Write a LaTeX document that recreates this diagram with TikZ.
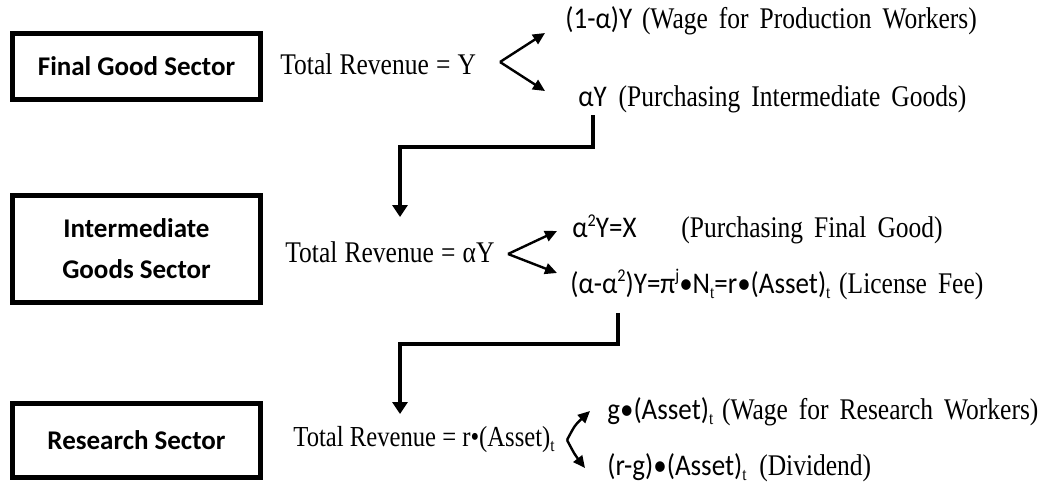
\documentclass[tikz,border=0pt]{standalone}
\usepackage{fontspec}
\setmainfont{Liberation Serif}
\newfontfamily\calib{Carlito}
\newfontfamily\tallserif[FakeStretch=0.85]{Liberation Serif}
\newfontfamily\tallcalib[FakeStretch=0.9]{Carlito}
\usetikzlibrary{calc,arrows.meta,positioning}
\newcommand{\lowidx}[1]{\raisebox{-0.35ex}{\tallserif\fontsize{9}{9}\selectfont #1}}
\newcommand{\hiidx}[1]{\raisebox{0.8ex}{\fontsize{9}{9}\selectfont #1}}
\newcommand{\widegap}[1]{\spaceskip=#1\relax}
\tikzset{
  sectorbox/.style={draw,line width=2.4pt,minimum width=124pt,inner sep=0pt,align=center,font=\calib\bfseries\fontsize{13.5}{20.5}\selectfont},
  revenue/.style={anchor=west,inner sep=1pt,font=\tallserif\fontsize{15}{17}\selectfont\widegap{3.6pt}},
  formula/.style={anchor=west,inner sep=1pt,font=\tallcalib\fontsize{15}{16}\selectfont},
  gloss/.style={anchor=base west,inner sep=1pt,font=\tallserif\fontsize{15}{16}\selectfont\widegap{5.5pt}},
  fork/.style={line width=1.2pt,-{Triangle[length=6pt,width=5.5pt]}},
  flowarrow/.style={line width=2pt,-{Triangle[length=6pt,width=7.5pt]}}
}

\begin{document}
\begin{tikzpicture}[x=0.5pt,y=-0.5pt]
\useasboundingbox (0,0) rectangle (1040,488);

\node[sectorbox,minimum height=33.1pt] (final) at (136.5,66.5) {Final Good Sector};
\node[sectorbox,minimum height=53.6pt] (inter) at (136.5,249) {Intermediate\\Goods Sector};
\node[sectorbox,minimum height=37.1pt] (research) at (136.5,440.5) {Research Sector};

\node[revenue] (rev1) at (278,64) {Total Revenue = Y};
\node[revenue] (rev2) at (283,252) {Total Revenue = αY};
\node[revenue,font=\tallserif\fontsize{14.5}{17}\selectfont] (rev3) at (291,440) {Total Revenue = r•(Asset)\lowidx{t}};

\node[formula] (wage1f) at (563,20) {(1-α)Y};
\node[gloss] (wage1t) at ([xshift=2.5pt]wage1f.base east) {(Wage for Production Workers)};
\node[formula] (ig1f) at (576,97) {αY};
\node[gloss] (ig1t) at ([xshift=3.5pt]ig1f.base east) {(Purchasing Intermediate Goods)};

\node[formula] (fg2f) at (570,226) {α\hiidx{2}Y=X};
\node[gloss] (fg2t) at ([xshift=20pt]fg2f.base east) {(Purchasing Final Good)};
\node[formula] (lic2f) at (568,284) {(α-α\hiidx{2})Y=π\hiidx{j}•N\lowidx{t}=r•(Asset)\lowidx{t}};
\node[gloss] (lic2t) at ([xshift=2pt]lic2f.base east) {(License Fee)};

\node[formula] (rw3f) at (605,411) {g•(Asset)\lowidx{t}};
\node[gloss] (rw3t) at ([xshift=2pt]rw3f.base east) {(Wage for Research Workers)};
\node[formula] (div3f) at (605,467) {(r-g)•(Asset)\lowidx{t}};
\node[gloss] (div3t) at ([xshift=4pt]div3f.base east) {(Dividend)};

\coordinate (fork1) at (500,62);
\coordinate (up1) at (545,33);
\coordinate (down1) at (545,91);
\coordinate (fork2) at (508,254);
\coordinate (up2) at (557,231);
\coordinate (down2) at (557,273);
\coordinate (fork3) at (567,440);
\coordinate (up3) at (590,411);
\coordinate (down3) at (585,468);
\coordinate (drop2) at (400,217);
\coordinate (drop3) at (400,414);

\draw[fork] (fork1) -- (up1);
\draw[fork] (fork1) -- (down1);
\draw[fork] (fork2) -- (up2);
\draw[fork] (fork2) -- (down2);
\draw[fork] (fork3) .. controls (575,425) .. (up3);
\draw[fork] (fork3) .. controls (575,455) .. (down3);

\draw[flowarrow] ([yshift=-3pt]ig1f.south) -- ++(0,32) -| (drop2);
\draw[flowarrow] ([xshift=25pt,yshift=-6pt]lic2f.south west) -- ++(0,31) -| (drop3);
\end{tikzpicture}
\end{document}
